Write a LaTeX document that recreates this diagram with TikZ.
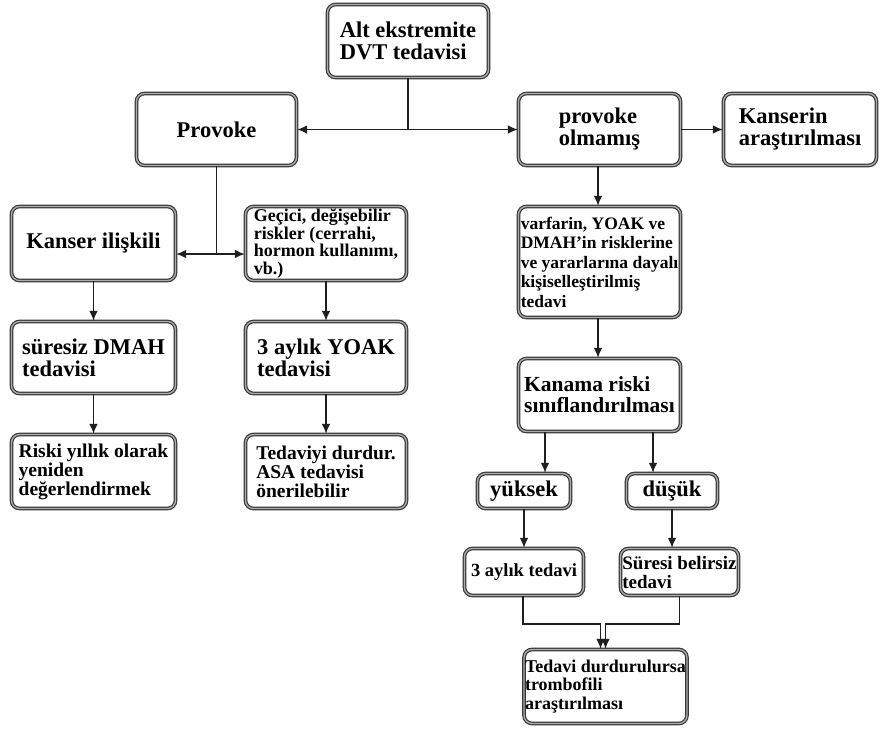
\documentclass[tikz,border=0pt]{standalone}
\usepackage{fontspec}
\setmainfont{Liberation Serif}
\usetikzlibrary{arrows.meta,calc}
\begin{document}
\begin{tikzpicture}[x=1pt,y=-1pt,
  box/.style={draw=black!78,line width=1.2pt,double=black!32,double distance=1.3pt,
    rounded corners=8pt,fill=white,align=left,inner sep=1pt,font=\bfseries},
  big/.style={font=\bfseries\fontsize{22.5}{22}\selectfont},
  small/.style={font=\bfseries\fontsize{18}{17.5}\selectfont},
  mid/.style={font=\bfseries\fontsize{19.5}{19}\selectfont},
  arr/.style={draw=black!88,line width=1.6pt,-{Latex[length=10pt,width=8.5pt]}},
  ln/.style={draw=black!88,line width=1.6pt},
]
\useasboundingbox (0,0) rectangle (880,731);
\fill[white] (0,0) rectangle (880,731);

\node[box,big,minimum width=161,minimum height=73] (top) at (408,41) {Alt ekstremite\\DVT tedavisi};
\node[box,big,minimum width=160,minimum height=72] (prov) at (216.5,129.5) {Provoke};
\node[box,big,minimum width=162,minimum height=72] (nprov) at (599.5,129.5) {provoke\\olmamış};
\node[box,big,minimum width=153,minimum height=72] (kans) at (800,129.5) {Kanserin\\araştırılması};

\node[box,big,minimum width=164,minimum height=74] (kil) at (93.5,243.5) {\raisebox{-7pt}{Kanser ilişkili}};
\node[box,small,minimum width=161,minimum height=74] (gec) at (326,243.5) {Geçici, değişebilir\\riskler (cerrahi,\\hormon kullanımı,\\vb.)};
\node[box,big,minimum width=164,minimum height=72] (dmah) at (93.5,357.5) {süresiz DMAH\\tedavisi};
\node[box,big,minimum width=161,minimum height=72] (yoak) at (326,357.5) {3 aylık YOAK\\tedavisi};
\node[box,mid,minimum width=164,minimum height=74] (risk) at (93.5,471.5) {Riski yıllık olarak\\yeniden\\değerlendirmek};
\node[box,mid,minimum width=161,minimum height=74] (durd) at (326,471.5) {Tedaviyi durdur.\\ASA tedavisi\\önerilebilir};

\node[box,font=\bfseries\fontsize{17.5}{19.5}\selectfont,minimum width=162,minimum height=111] (varf) at (599.5,262) {varfarin, YOAK ve\\DMAH'in risklerine\\ve yararlarına dayalı\\kişiselleştirilmiş\\tedavi};
\node[box,font=\bfseries\fontsize{21.5}{21}\selectfont,minimum width=162,minimum height=73] (kan) at (599.5,395) {Kanama riski\\sınıflandırılması};
\node[box,big,minimum width=93,minimum height=35] (yuk) at (524,491) {yüksek};
\node[box,big,minimum width=91,minimum height=35] (dus) at (672,491) {düşük};
\node[box,font=\bfseries\fontsize{18.5}{18.5}\selectfont,minimum width=119,minimum height=47] (aylik) at (524,572) {3 aylık tedavi};
\node[box,font=\bfseries\fontsize{19}{19}\selectfont,minimum width=118,minimum height=47] (sure) at (679.5,572) {Süresi belirsiz\\tedavi};
\node[box,font=\bfseries\fontsize{18}{18.3}\selectfont,minimum width=162,minimum height=74] (trom) at (605.5,686.5) {Tedavi durdurulursa\\trombofili\\araştırılması};

% top split
\coordinate (t1) at (top.south |- prov.east);
\draw[ln] (top.south) -- (t1);
\draw[arr] (t1) -- (prov.east);
\draw[arr] (t1) -- (nprov.west);
\draw[arr] (nprov.east) -- (kans.west);

% provoke split
\coordinate (j) at ($(prov.south |- kil.center)+(0,10.5)$);
\draw[ln] (prov.south) -- (j);
\draw[arr] (j) -- (j -| kil.east);
\draw[arr] (j) -- (j -| gec.west);

\draw[arr] (kil.south) -- (dmah.north);
\draw[arr] (dmah.south) -- (risk.north);
\draw[arr] (gec.south) -- (yoak.north);
\draw[arr] (yoak.south) -- (durd.north);

\draw[arr] ([xshift=-1.5pt]nprov.south) -- ([xshift=-1.5pt]varf.north);
\draw[arr] ([xshift=-1.5pt]varf.south) -- ([xshift=-1.5pt]kan.north);

\draw[arr] ([xshift=-54.5pt]kan.south) -- ([xshift=-54.5pt]kan.south |- yuk.north);
\draw[arr] ([xshift=53.5pt]kan.south) -- ([xshift=53.5pt]kan.south |- dus.north);
\draw[arr] (yuk.south) -- (yuk.south |- aylik.north);
\draw[arr] (dus.south) -- (dus.south |- sure.north);

\coordinate (m1) at ($(trom.north)+(-5,-25)$);
\coordinate (m2) at ($(trom.north)+(0,-25)$);
\draw[arr] ([xshift=-1pt]aylik.south) |- (m1) -- (m1 |- trom.north);
\draw[arr] (sure.south) |- (m2) -- (m2 |- trom.north);
\end{tikzpicture}
\end{document}
